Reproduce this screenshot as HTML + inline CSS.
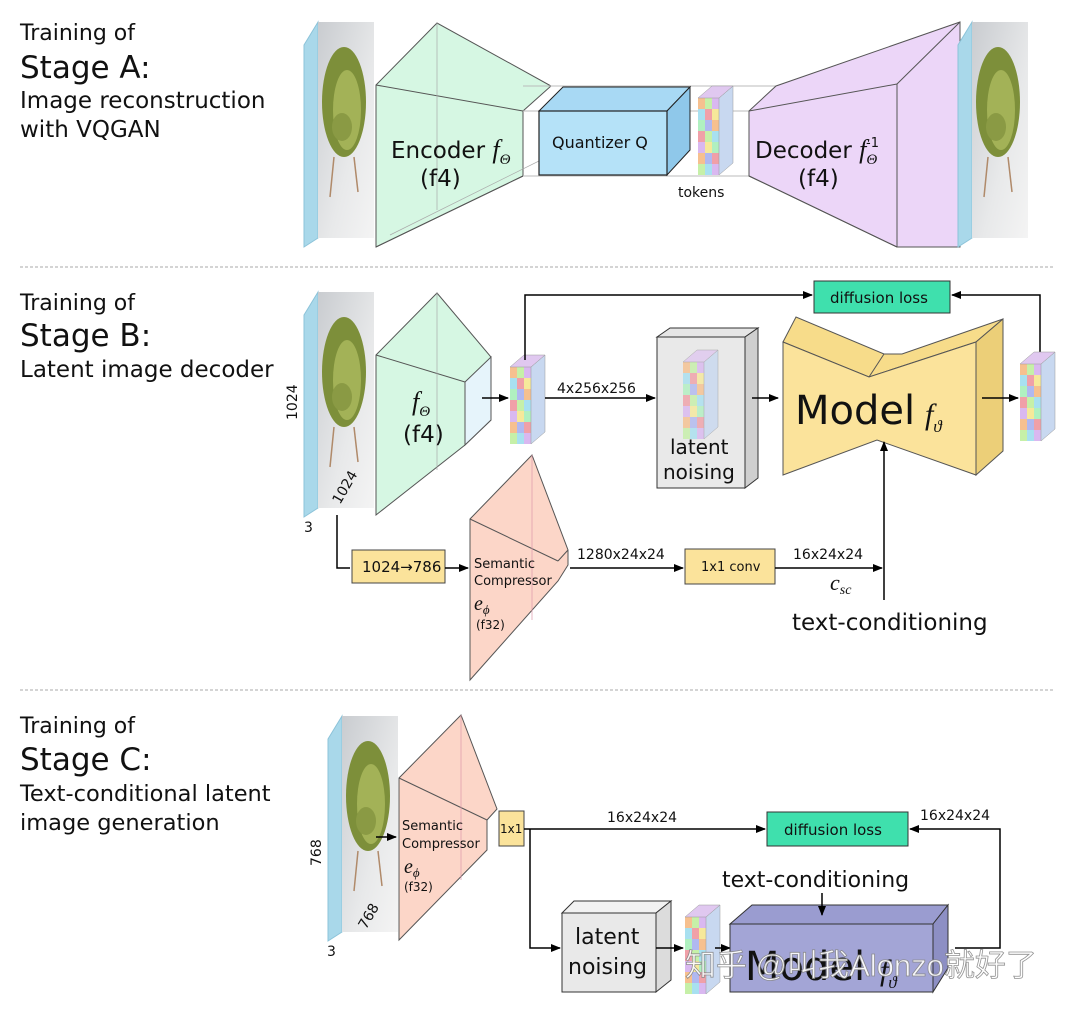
<!DOCTYPE html>
<html><head><meta charset="utf-8">
<style>
html,body{margin:0;padding:0;background:#fff;}
svg{display:block;}
text{font-family:"DejaVu Sans","Liberation Sans",sans-serif;fill:#111;}
.m{font-family:"Liberation Serif",serif;font-style:italic;}
</style></head><body>
<svg width="1080" height="1010" viewBox="0 0 1080 1010" xmlns="http://www.w3.org/2000/svg">
<defs>
<marker id="ar" markerWidth="10" markerHeight="10" refX="9" refY="5" orient="auto" markerUnits="userSpaceOnUse">
<path d="M0,1 L10,5 L0,9 z" fill="#000"/></marker>
<linearGradient id="img" x1="0" y1="0" x2="1" y2="1">
<stop offset="0" stop-color="#c9ccd0"/><stop offset="0.6" stop-color="#e8e9ea"/><stop offset="1" stop-color="#f4f4f4"/></linearGradient>
<g id="slab">
<polygon points="0,23 14,0 14,216 0,225" fill="#a9d8ea" stroke="#8cc3d9" stroke-width="1"/>
<polygon points="14,0 70,0 70,216 14,216" fill="url(#img)"/>
<ellipse cx="40" cy="80" rx="22" ry="55" fill="#7d8f3a"/>
<ellipse cx="43" cy="88" rx="14" ry="40" fill="#a3b257"/>
<ellipse cx="38" cy="105" rx="10" ry="14" fill="#8a9a44"/>
<line x1="30" y1="135" x2="26" y2="175" stroke="#b08a6a" stroke-width="1.5"/>
<line x1="50" y1="135" x2="54" y2="170" stroke="#b08a6a" stroke-width="1.5"/>
</g>
<g id="grid">
<rect x="0" y="0" width="7" height="11" fill="#f6c08f"/><rect x="7" y="0" width="7" height="11" fill="#c6f0a8"/><rect x="14" y="0" width="7" height="11" fill="#d9b8f0"/>
<rect x="0" y="11" width="7" height="11" fill="#a8e0f0"/><rect x="7" y="11" width="7" height="11" fill="#f0a0a8"/><rect x="14" y="11" width="7" height="11" fill="#f6e89a"/>
<rect x="0" y="22" width="7" height="11" fill="#b0f0c0"/><rect x="7" y="22" width="7" height="11" fill="#b0b8f0"/><rect x="14" y="22" width="7" height="11" fill="#f6c08f"/>
<rect x="0" y="33" width="7" height="11" fill="#f0a0a8"/><rect x="7" y="33" width="7" height="11" fill="#c6f0a8"/><rect x="14" y="33" width="7" height="11" fill="#a8e0f0"/>
<rect x="0" y="44" width="7" height="11" fill="#d9b8f0"/><rect x="7" y="44" width="7" height="11" fill="#f6e89a"/><rect x="14" y="44" width="7" height="11" fill="#b0f0c0"/>
<rect x="0" y="55" width="7" height="11" fill="#f6c08f"/><rect x="7" y="55" width="7" height="11" fill="#b0b8f0"/><rect x="14" y="55" width="7" height="11" fill="#f0a0a8"/>
<rect x="0" y="66" width="7" height="11" fill="#c6f0a8"/><rect x="7" y="66" width="7" height="11" fill="#a8e0f0"/><rect x="14" y="66" width="7" height="11" fill="#d9b8f0"/>
<polygon points="21,0 35,-12 35,65 21,77" fill="#c8d8f0" stroke="#999" stroke-width="0.5"/>
<polygon points="0,0 14,-12 35,-12 21,0" fill="#e0c8f0" stroke="#999" stroke-width="0.5"/>
</g>
</defs>

<!-- Stage A text -->
<text x="20" y="40" font-size="22">Training of</text>
<text x="20" y="78" font-size="31">Stage A:</text>
<text x="20" y="108" font-size="23">Image reconstruction</text>
<text x="20" y="137" font-size="23">with VQGAN</text>

<use href="#slab" x="304" y="22"/>
<!-- encoder -->
<polygon points="376,85 437,23 551,86 523,111 523,176 376,247" fill="#d6f7e3" stroke="#555" stroke-width="1"/>
<line x1="376" y1="85" x2="523" y2="111" stroke="#555"/>
<line x1="437" y1="23" x2="437" y2="210" stroke="#aaa" stroke-width="0.7"/>
<line x1="376" y1="247" x2="523" y2="176" stroke="#555"/>
<line x1="390" y1="235" x2="551" y2="155" stroke="#aaa" stroke-width="0.7"/>
<line x1="523" y1="86" x2="776" y2="86" stroke="#bbb"/>
<line x1="523" y1="111" x2="749" y2="111" stroke="#bbb"/>
<line x1="523" y1="176" x2="749" y2="176" stroke="#bbb"/>
<text x="391" y="158" font-size="23">Encoder <tspan class="m" font-size="26">f</tspan><tspan class="m" font-size="15" dy="6">Θ</tspan></text>
<text x="420" y="186" font-size="23">(f4)</text>
<!-- quantizer -->
<polygon points="539,111 563,87 690,87 667,111" fill="#a8d9f4" stroke="#222"/>
<polygon points="667,111 690,87 690,150 667,175" fill="#8fc8ea" stroke="#222"/>
<rect x="539" y="111" width="128" height="64" fill="#b5e2f8" stroke="#222" stroke-width="1.2"/>
<text x="552" y="148" font-size="16">Quantizer Q</text>
<use href="#grid" x="698" y="98"/>
<text x="678" y="197" font-size="14">tokens</text>
<!-- decoder -->
<polygon points="749,111 776,86 960,22 960,247 897,247 749,176" fill="#ecd6f8" stroke="#555"/>
<line x1="749" y1="111" x2="897" y2="84" stroke="#555"/>
<line x1="897" y1="84" x2="960" y2="22" stroke="#555"/>
<line x1="897" y1="84" x2="897" y2="247" stroke="#555"/>
<line x1="749" y1="176" x2="897" y2="247" stroke="#555"/>
<text x="755" y="158" font-size="23">Decoder <tspan class="m" font-size="26">f</tspan><tspan class="m" font-size="15" dy="6">Θ</tspan></text>
<text x="866" y="147" font-size="13">-1</text>
<text x="798" y="186" font-size="23">(f4)</text>
<use href="#slab" x="958" y="22"/>

<line x1="20" y1="267" x2="1055" y2="267" stroke="#aaa" stroke-dasharray="3,2" stroke-width="1"/>

<!-- Stage B -->
<text x="20" y="310" font-size="22">Training of</text>
<text x="20" y="346" font-size="31">Stage B:</text>
<text x="20" y="377" font-size="23">Latent image decoder</text>
<use href="#slab" x="304" y="292"/>
<text x="0" y="0" font-size="14" transform="translate(297,420) rotate(-90)">1024</text>
<text x="0" y="0" font-size="14" transform="translate(340,505) rotate(-60)">1024</text>
<text x="304" y="532" font-size="14">3</text>
<polygon points="376,355 437,293 491,357 491,420 465,445 376,515" fill="#d6f7e3" stroke="#555"/>
<polygon points="465,382 491,357 491,420 465,445" fill="#e6f4fb" stroke="#555"/>
<line x1="376" y1="355" x2="465" y2="382" stroke="#555"/>
<line x1="437" y1="293" x2="437" y2="470" stroke="#aaa" stroke-width="0.7"/>
<text x="412" y="410" class="m" font-size="26">f<tspan font-size="15" dy="6">Θ</tspan></text>
<text x="403" y="442" font-size="23">(f4)</text>
<line x1="482" y1="398" x2="508" y2="398" stroke="#000" stroke-width="1.5" marker-end="url(#ar)"/>
<use href="#grid" x="510" y="367"/>
<line x1="545" y1="398" x2="655" y2="398" stroke="#000" stroke-width="1.5" marker-end="url(#ar)"/>
<text x="557" y="393" font-size="14">4x256x256</text>
<polyline points="525,360 525,295 812,295" fill="none" stroke="#000" stroke-width="1.5" marker-end="url(#ar)"/>
<rect x="814" y="281" width="136" height="32" fill="#3fe0ad" stroke="#333"/>
<text x="830" y="303" font-size="15">diffusion loss</text>
<polyline points="1040,355 1040,295 952,295" fill="none" stroke="#000" stroke-width="1.5" marker-end="url(#ar)"/>
<!-- latent noising -->
<polygon points="657,337 670,328 758,328 745,337" fill="#e6e6e6" stroke="#333"/>
<polygon points="745,337 758,328 758,478 745,488" fill="#cfcfcf" stroke="#333"/>
<rect x="657" y="337" width="88" height="151" fill="#e9e9e9" stroke="#333"/>
<g opacity="0.8"><use href="#grid" x="683" y="362"/></g>
<text x="670" y="454" font-size="20">latent</text>
<text x="663" y="479" font-size="20">noising</text>
<line x1="752" y1="398" x2="778" y2="398" stroke="#000" stroke-width="1.5" marker-end="url(#ar)"/>
<!-- model -->
<polygon points="783,342 796,317 884,354 902,354 1003,319 976,342 869,377" fill="#f7dc8a" stroke="#555"/>
<polygon points="976,342 1003,319 1003,451 976,475" fill="#eccf78" stroke="#555"/>
<polygon points="783,342 869,377 976,342 976,475 877,440 783,475" fill="#fbe39b" stroke="#555"/>
<line x1="869" y1="377" x2="884" y2="354" stroke="#555"/>
<text x="795" y="424" font-size="40">Model</text>
<text x="925" y="424" class="m" font-size="30">f<tspan font-size="17" dy="8">ϑ</tspan></text>
<line x1="982" y1="398" x2="1018" y2="398" stroke="#000" stroke-width="1.5" marker-end="url(#ar)"/>
<use href="#grid" x="1020" y="364"/>
<line x1="884" y1="600" x2="884" y2="442" stroke="#000" stroke-width="1.5" marker-end="url(#ar)"/>
<text x="792" y="630" font-size="23">text-conditioning</text>
<!-- bottom path -->
<polyline points="337,515 337,568 350,568" fill="none" stroke="#000" stroke-width="1.5"/>
<rect x="352" y="550" width="93" height="33" fill="#fbe39b" stroke="#444"/>
<text x="362" y="572" font-size="15">1024→786</text>
<line x1="445" y1="568" x2="468" y2="568" stroke="#000" stroke-width="1.5" marker-end="url(#ar)"/>
<polygon points="470,519 532,455 568,550 568,565 558,581 470,680" fill="#fcd6c8" stroke="#555"/>
<line x1="470" y1="519" x2="558" y2="561" stroke="#555"/>
<line x1="558" y1="561" x2="568" y2="550" stroke="#555"/>
<line x1="532" y1="455" x2="532" y2="620" stroke="#d9a" stroke-width="0.7"/>
<text x="474" y="568" font-size="13">Semantic</text>
<text x="474" y="585" font-size="13">Compressor</text>
<text x="474" y="610" class="m" font-size="20">e<tspan font-size="13" dy="4">ϕ</tspan></text>
<text x="476" y="629" font-size="12">(f32)</text>
<line x1="570" y1="568" x2="683" y2="568" stroke="#000" stroke-width="1.5" marker-end="url(#ar)"/>
<text x="577" y="559" font-size="14">1280x24x24</text>
<rect x="685" y="549" width="90" height="35" fill="#fbe39b" stroke="#444"/>
<text x="701" y="571" font-size="13">1x1 conv</text>
<line x1="775" y1="568" x2="882" y2="568" stroke="#000" stroke-width="1.5" marker-end="url(#ar)"/>
<text x="793" y="559" font-size="14">16x24x24</text>
<text x="830" y="590" class="m" font-size="22">c<tspan font-size="14" dy="4">sc</tspan></text>

<line x1="20" y1="690" x2="1055" y2="690" stroke="#aaa" stroke-dasharray="3,2" stroke-width="1"/>

<!-- Stage C -->
<text x="20" y="733" font-size="22">Training of</text>
<text x="20" y="770" font-size="31">Stage C:</text>
<text x="20" y="801" font-size="22.5">Text-conditional latent</text>
<text x="20" y="830" font-size="22.5">image generation</text>
<use href="#slab" x="328" y="716"/>
<text x="0" y="0" font-size="14" transform="translate(321,866) rotate(-90)">768</text>
<text x="0" y="0" font-size="14" transform="translate(366,930) rotate(-60)">768</text>
<text x="327" y="956" font-size="14">3</text>
<line x1="376" y1="837" x2="396" y2="837" stroke="#000" stroke-width="1.5" marker-end="url(#ar)"/>
<polygon points="399,778 461,715 497,809 487,820 487,850 399,940" fill="#fcd6c8" stroke="#555"/>
<line x1="399" y1="778" x2="487" y2="820" stroke="#555"/>
<line x1="461" y1="715" x2="461" y2="880" stroke="#d9a" stroke-width="0.7"/>
<text x="402" y="830" font-size="13">Semantic</text>
<text x="402" y="848" font-size="13">Compressor</text>
<text x="404" y="873" class="m" font-size="20">e<tspan font-size="13" dy="4">ϕ</tspan></text>
<text x="404" y="891" font-size="12">(f32)</text>
<rect x="499" y="811" width="25" height="35" fill="#fbe39b" stroke="#444"/>
<text x="500" y="833" font-size="12">1x1</text>
<line x1="524" y1="829" x2="765" y2="829" stroke="#000" stroke-width="1.5" marker-end="url(#ar)"/>
<text x="607" y="822" font-size="14">16x24x24</text>
<rect x="767" y="812" width="141" height="34" fill="#3fe0ad" stroke="#333"/>
<text x="784" y="835" font-size="15">diffusion loss</text>
<polyline points="955,948 1000,948 1000,829 910,829" fill="none" stroke="#000" stroke-width="1.5" marker-end="url(#ar)"/>
<text x="920" y="820" font-size="14">16x24x24</text>
<polyline points="530,829 530,948 560,948" fill="none" stroke="#000" stroke-width="1.5" marker-end="url(#ar)"/>
<polygon points="562,913 574,901 671,901 656,913" fill="#f2f2f2" stroke="#333"/>
<polygon points="656,913 671,901 671,980 656,992" fill="#dcdcdc" stroke="#333"/>
<rect x="562" y="913" width="94" height="79" fill="#e9e9e9" stroke="#333"/>
<text x="575" y="944" font-size="22">latent</text>
<text x="568" y="974" font-size="22">noising</text>
<line x1="656" y1="948" x2="683" y2="948" stroke="#000" stroke-width="1.5" marker-end="url(#ar)"/>
<use href="#grid" x="685" y="917"/>
<line x1="715" y1="948" x2="730" y2="948" stroke="#000" stroke-width="1.5" marker-end="url(#ar)"/>
<polygon points="730,924 752,905 948,905 933,924" fill="#9a9cd0" stroke="#333"/>
<polygon points="933,924 948,905 948,968 933,992" fill="#8d8fc4" stroke="#333"/>
<rect x="730" y="924" width="203" height="68" fill="#a3a5d6" stroke="#333"/>
<text x="745" y="980" font-size="40">Model</text>
<text x="880" y="980" class="m" font-size="30">f<tspan font-size="17" dy="8">ϑ</tspan></text>
<text x="722" y="887" font-size="22">text-conditioning</text>
<line x1="822" y1="893" x2="822" y2="915" stroke="#000" stroke-width="1.5" marker-end="url(#ar)"/>
<text x="685" y="976" font-size="31" style="font-family:'Liberation Sans','Noto Sans CJK SC',sans-serif;fill:#fff;stroke:#888;stroke-width:0.8;opacity:0.9">知乎 @叫我Alonzo就好了</text>
</svg>
</body></html>
